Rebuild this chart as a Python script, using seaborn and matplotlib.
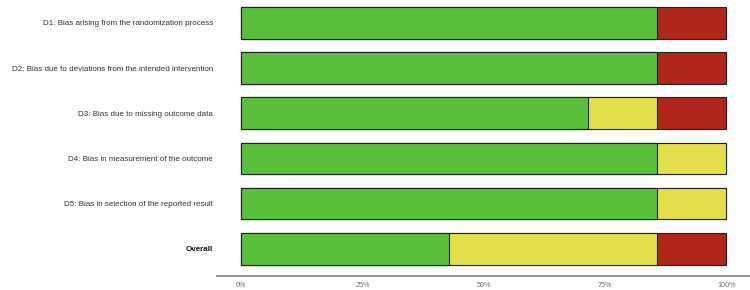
import matplotlib
matplotlib.use("Agg")
import matplotlib.pyplot as plt
import pandas as pd
import seaborn as sns

# Risk-of-bias summary (proportion of studies per judgement)
domains = [
    "D1: Bias arising from the randomization process",
    "D2: Bias due to deviations from the intended intervention",
    "D3: Bias due to missing outcome data",
    "D4: Bias in measurement of the outcome",
    "D5: Bias in selection of the reported result",
    "Overall",
]
low_risk = [6 / 7, 6 / 7, 5 / 7, 6 / 7, 6 / 7, 3 / 7]
some_concerns = [0, 0, 1 / 7, 1 / 7, 1 / 7, 3 / 7]
high_risk = [1 / 7, 1 / 7, 1 / 7, 0, 0, 1 / 7]
x_ticks = [0, 0.25, 0.5, 0.75, 1.0]
x_tick_labels = ["0%", "25%", "50%", "75%", "100%"]

COLORS = {"low": "#58BF3B", "some": "#E2DF4A", "high": "#B0261B"}

df = pd.DataFrame({
    "domain": domains,
    "low": low_risk,
    "some": some_concerns,
    "high": high_risk,
})
# cumulative ends for stacked bars (drawn back to front)
df["cum_low"] = df["low"]
df["cum_some"] = df["low"] + df["some"]
df["cum_high"] = df["low"] + df["some"] + df["high"]

sns.set_theme(style="white")
plt.rcParams["font.family"] = ["Liberation Sans", "DejaVu Sans"]

fig = plt.figure(figsize=(7.5, 2.9), dpi=100)
ax = fig.add_axes([217 / 750, 14 / 290, 533.5 / 750, 276 / 290])

for col, key in [("cum_high", "high"), ("cum_some", "some"), ("cum_low", "low")]:
    sns.barplot(
        data=df, x=col, y="domain", order=domains, orient="h",
        color=COLORS[key], width=0.7, edgecolor="#222222", linewidth=0.8,
        saturation=1, ax=ax,
    )

ax.set_xlim(-0.05, 1.05)
ax.set_ylim(5.6, -0.506)
ax.set_xticks(x_ticks)
ax.set_xticklabels(x_tick_labels, fontsize=5.2, color="#707070")
ax.set_xlabel("")
ax.set_ylabel("")
ax.tick_params(axis="x", length=2, width=0.6, color="#808080", pad=2)
ax.tick_params(axis="y", length=0, pad=3, labelsize=5.8, labelcolor="#333333")
for lbl in ax.get_yticklabels():
    if lbl.get_text() == "Overall":
        lbl.set_fontweight("bold")
        lbl.set_color("#111111")

for side in ["top", "right", "left"]:
    ax.spines[side].set_visible(False)
ax.spines["bottom"].set_color("#8a8a8a")
ax.spines["bottom"].set_linewidth(1.3)

fig.savefig("out.png", dpi=100)
